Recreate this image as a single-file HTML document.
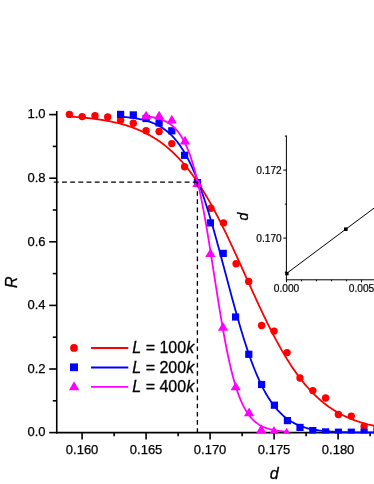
<!DOCTYPE html>
<html><head><meta charset="utf-8"><title>chart</title>
<style>
html,body{margin:0;padding:0;background:#fff;}
body{width:374px;height:484px;overflow:hidden;}
svg{display:block;will-change:transform;}
text{font-family:"Liberation Sans",sans-serif;fill:#000;}
.t{font-size:13px;stroke:#000;stroke-width:0.25px;}
.s{font-size:10.2px;stroke:#000;stroke-width:0.2px;}
.l{font-size:16px;stroke:#000;stroke-width:0.3px;}
.a{stroke:#000;stroke-width:0.3px;}
.i{font-style:italic;}
</style></head><body>
<svg width="374" height="484" viewBox="0 0 374 484">
<defs><clipPath id="clip"><rect x="0" y="0" width="374" height="433.5"/></clipPath></defs>
<rect width="374" height="484" fill="#fff"/>
<path d="M56.75 110.9 V433.40" stroke="#000" stroke-width="1.6" fill="none"/>
<path d="M55.95 432.60 H374" stroke="#000" stroke-width="1.8" fill="none"/>
<path d="M49.2 432.60 H56.75" stroke="#000" stroke-width="1.6"/>
<text x="45.6" y="436.40" text-anchor="end" class="t">0.0</text>
<path d="M52.8 400.80 H56.75" stroke="#000" stroke-width="1.6"/>
<path d="M49.2 369.00 H56.75" stroke="#000" stroke-width="1.6"/>
<text x="45.6" y="372.80" text-anchor="end" class="t">0.2</text>
<path d="M52.8 337.20 H56.75" stroke="#000" stroke-width="1.6"/>
<path d="M49.2 305.40 H56.75" stroke="#000" stroke-width="1.6"/>
<text x="45.6" y="309.20" text-anchor="end" class="t">0.4</text>
<path d="M52.8 273.60 H56.75" stroke="#000" stroke-width="1.6"/>
<path d="M49.2 241.80 H56.75" stroke="#000" stroke-width="1.6"/>
<text x="45.6" y="245.60" text-anchor="end" class="t">0.6</text>
<path d="M52.8 210.00 H56.75" stroke="#000" stroke-width="1.6"/>
<path d="M49.2 178.20 H56.75" stroke="#000" stroke-width="1.6"/>
<text x="45.6" y="182.00" text-anchor="end" class="t">0.8</text>
<path d="M52.8 146.40 H56.75" stroke="#000" stroke-width="1.6"/>
<path d="M49.2 114.60 H56.75" stroke="#000" stroke-width="1.6"/>
<text x="45.6" y="118.40" text-anchor="end" class="t">1.0</text>
<path d="M82.10 432.60 V439.4" stroke="#000" stroke-width="1.6"/>
<text x="82.10" y="453.6" text-anchor="middle" class="t">0.160</text>
<path d="M114.10 432.60 V436.3" stroke="#000" stroke-width="1.6"/>
<path d="M146.10 432.60 V439.4" stroke="#000" stroke-width="1.6"/>
<text x="146.10" y="453.6" text-anchor="middle" class="t">0.165</text>
<path d="M178.10 432.60 V436.3" stroke="#000" stroke-width="1.6"/>
<path d="M210.10 432.60 V439.4" stroke="#000" stroke-width="1.6"/>
<text x="210.10" y="453.6" text-anchor="middle" class="t">0.170</text>
<path d="M242.10 432.60 V436.3" stroke="#000" stroke-width="1.6"/>
<path d="M274.10 432.60 V439.4" stroke="#000" stroke-width="1.6"/>
<text x="274.10" y="453.6" text-anchor="middle" class="t">0.175</text>
<path d="M306.10 432.60 V436.3" stroke="#000" stroke-width="1.6"/>
<path d="M338.10 432.60 V439.4" stroke="#000" stroke-width="1.6"/>
<text x="338.10" y="453.6" text-anchor="middle" class="t">0.180</text>
<path d="M370.10 432.60 V436.3" stroke="#000" stroke-width="1.6"/>
<g clip-path="url(#clip)">
<path d="M69.40 116.55 L70.40 116.62 L71.40 116.68 L72.40 116.75 L73.40 116.82 L74.40 116.89 L75.40 116.96 L76.40 117.03 L77.40 117.11 L78.40 117.19 L79.40 117.27 L80.40 117.36 L81.40 117.45 L82.40 117.54 L83.40 117.63 L84.40 117.72 L85.40 117.82 L86.40 117.92 L87.40 118.02 L88.40 118.13 L89.40 118.24 L90.40 118.35 L91.40 118.47 L92.40 118.59 L93.40 118.71 L94.40 118.84 L95.40 118.97 L96.40 119.10 L97.40 119.24 L98.40 119.38 L99.40 119.53 L100.40 119.68 L101.40 119.83 L102.40 119.99 L103.40 120.16 L104.40 120.32 L105.40 120.50 L106.40 120.67 L107.40 120.86 L108.40 121.04 L109.40 121.24 L110.40 121.43 L111.40 121.64 L112.40 121.85 L113.40 122.06 L114.40 122.28 L115.40 122.51 L116.40 122.74 L117.40 122.98 L118.40 123.23 L119.40 123.48 L120.40 123.74 L121.40 124.01 L122.40 124.28 L123.40 124.56 L124.40 124.85 L125.40 125.15 L126.40 125.45 L127.40 125.77 L128.40 126.09 L129.40 126.42 L130.40 126.76 L131.40 127.10 L132.40 127.46 L133.40 127.83 L134.40 128.20 L135.40 128.59 L136.40 128.98 L137.40 129.39 L138.40 129.80 L139.40 130.23 L140.40 130.66 L141.40 131.11 L142.40 131.57 L143.40 132.04 L144.40 132.53 L145.40 133.02 L146.40 133.53 L147.40 134.05 L148.40 134.58 L149.40 135.13 L150.40 135.69 L151.40 136.26 L152.40 136.85 L153.40 137.45 L154.40 138.06 L155.40 138.69 L156.40 139.34 L157.40 140.00 L158.40 140.67 L159.40 141.36 L160.40 142.07 L161.40 142.80 L162.40 143.54 L163.40 144.29 L164.40 145.07 L165.40 145.86 L166.40 146.67 L167.40 147.50 L168.40 148.34 L169.40 149.21 L170.40 150.09 L171.40 151.00 L172.40 151.92 L173.40 152.86 L174.40 153.82 L175.40 154.80 L176.40 155.80 L177.40 156.83 L178.40 157.87 L179.40 158.93 L180.40 160.02 L181.40 161.13 L182.40 162.26 L183.40 163.41 L184.40 164.58 L185.40 165.78 L186.40 166.99 L187.40 168.23 L188.40 169.50 L189.40 170.78 L190.40 172.09 L191.40 173.42 L192.40 174.78 L193.40 176.16 L194.40 177.56 L195.40 178.98 L196.40 180.43 L197.40 181.91 L198.40 183.40 L199.40 184.92 L200.40 186.46 L201.40 188.03 L202.40 189.62 L203.40 191.23 L204.40 192.87 L205.40 194.53 L206.40 196.21 L207.40 197.91 L208.40 199.64 L209.40 201.39 L210.40 203.16 L211.40 204.95 L212.40 206.77 L213.40 208.61 L214.40 210.46 L215.40 212.34 L216.40 214.24 L217.40 216.15 L218.40 218.09 L219.40 220.05 L220.40 222.02 L221.40 224.01 L222.40 226.02 L223.40 228.05 L224.40 230.09 L225.40 232.15 L226.40 234.22 L227.40 236.31 L228.40 238.41 L229.40 240.53 L230.40 242.65 L231.40 244.79 L232.40 246.94 L233.40 249.10 L234.40 251.27 L235.40 253.45 L236.40 255.64 L237.40 257.84 L238.40 260.04 L239.40 262.25 L240.40 264.46 L241.40 266.67 L242.40 268.89 L243.40 271.12 L244.40 273.34 L245.40 275.56 L246.40 277.79 L247.40 280.01 L248.40 282.23 L249.40 284.45 L250.40 286.67 L251.40 288.88 L252.40 291.09 L253.40 293.29 L254.40 295.48 L255.40 297.67 L256.40 299.85 L257.40 302.01 L258.40 304.17 L259.40 306.32 L260.40 308.46 L261.40 310.58 L262.40 312.70 L263.40 314.79 L264.40 316.88 L265.40 318.95 L266.40 321.00 L267.40 323.04 L268.40 325.06 L269.40 327.07 L270.40 329.05 L271.40 331.02 L272.40 332.97 L273.40 334.90 L274.40 336.81 L275.40 338.70 L276.40 340.57 L277.40 342.42 L278.40 344.25 L279.40 346.05 L280.40 347.84 L281.40 349.60 L282.40 351.34 L283.40 353.05 L284.40 354.75 L285.40 356.42 L286.40 358.06 L287.40 359.69 L288.40 361.29 L289.40 362.86 L290.40 364.41 L291.40 365.94 L292.40 367.45 L293.40 368.93 L294.40 370.38 L295.40 371.81 L296.40 373.22 L297.40 374.60 L298.40 375.96 L299.40 377.30 L300.40 378.61 L301.40 379.90 L302.40 381.17 L303.40 382.41 L304.40 383.63 L305.40 384.82 L306.40 385.99 L307.40 387.14 L308.40 388.27 L309.40 389.38 L310.40 390.46 L311.40 391.52 L312.40 392.56 L313.40 393.58 L314.40 394.57 L315.40 395.55 L316.40 396.50 L317.40 397.44 L318.40 398.35 L319.40 399.24 L320.40 400.12 L321.40 400.97 L322.40 401.81 L323.40 402.63 L324.40 403.43 L325.40 404.21 L326.40 404.97 L327.40 405.71 L328.40 406.44 L329.40 407.15 L330.40 407.85 L331.40 408.52 L332.40 409.18 L333.40 409.83 L334.40 410.46 L335.40 411.07 L336.40 411.67 L337.40 412.26 L338.40 412.83 L339.40 413.38 L340.40 413.92 L341.40 414.45 L342.40 414.97 L343.40 415.47 L344.40 415.96 L345.40 416.43 L346.40 416.90 L347.40 417.35 L348.40 417.79 L349.40 418.22 L350.40 418.64 L351.40 419.04 L352.40 419.44 L353.40 419.83 L354.40 420.20 L355.40 420.57 L356.40 420.92 L357.40 421.27 L358.40 421.60 L359.40 421.93 L360.40 422.25 L361.40 422.56 L362.40 422.86 L363.40 423.15 L364.40 423.44 L365.40 423.71 L366.40 423.98 L367.40 424.25 L368.40 424.50 L369.40 424.75 L370.40 424.99 L371.40 425.22 L372.40 425.45 L373.40 425.67 L374.40 425.88 L375.40 426.09 L376.40 426.29 L377.40 426.49" stroke="#ff0000" stroke-width="1.8" fill="none"/>
<circle cx="69.4" cy="114.4" r="3.70" fill="#ff0000"/>
<circle cx="82.2" cy="116.6" r="3.70" fill="#ff0000"/>
<circle cx="95.0" cy="115.8" r="3.70" fill="#ff0000"/>
<circle cx="107.7" cy="117.0" r="3.70" fill="#ff0000"/>
<circle cx="120.6" cy="120.2" r="3.70" fill="#ff0000"/>
<circle cx="133.3" cy="123.3" r="3.70" fill="#ff0000"/>
<circle cx="146.1" cy="130.8" r="3.70" fill="#ff0000"/>
<circle cx="159.1" cy="131.5" r="3.70" fill="#ff0000"/>
<circle cx="171.8" cy="143.6" r="3.70" fill="#ff0000"/>
<circle cx="184.6" cy="166.7" r="3.70" fill="#ff0000"/>
<circle cx="197.5" cy="182.6" r="3.70" fill="#ff0000"/>
<circle cx="210.9" cy="208.2" r="3.70" fill="#ff0000"/>
<circle cx="223.5" cy="222.9" r="3.70" fill="#ff0000"/>
<circle cx="236.1" cy="263.8" r="3.70" fill="#ff0000"/>
<circle cx="248.7" cy="281.4" r="3.70" fill="#ff0000"/>
<circle cx="261.6" cy="325.5" r="3.70" fill="#ff0000"/>
<circle cx="274.1" cy="331.1" r="3.70" fill="#ff0000"/>
<circle cx="287.1" cy="352.6" r="3.70" fill="#ff0000"/>
<circle cx="300.0" cy="378.0" r="3.70" fill="#ff0000"/>
<circle cx="312.8" cy="390.6" r="3.70" fill="#ff0000"/>
<circle cx="325.6" cy="398.0" r="3.70" fill="#ff0000"/>
<circle cx="338.4" cy="414.5" r="3.70" fill="#ff0000"/>
<circle cx="351.3" cy="416.1" r="3.70" fill="#ff0000"/>
<circle cx="364.1" cy="426.5" r="3.70" fill="#ff0000"/>
<circle cx="377.0" cy="428.0" r="3.70" fill="#ff0000"/>
<path d="M120.60 116.74 L121.60 116.81 L122.60 116.88 L123.60 116.96 L124.60 117.04 L125.60 117.12 L126.60 117.22 L127.60 117.31 L128.60 117.42 L129.60 117.53 L130.60 117.64 L131.60 117.77 L132.60 117.90 L133.60 118.04 L134.60 118.18 L135.60 118.34 L136.60 118.50 L137.60 118.68 L138.60 118.86 L139.60 119.05 L140.60 119.26 L141.60 119.48 L142.60 119.70 L143.60 119.95 L144.60 120.20 L145.60 120.47 L146.60 120.75 L147.60 121.05 L148.60 121.37 L149.60 121.70 L150.60 122.06 L151.60 122.43 L152.60 122.82 L153.60 123.23 L154.60 123.66 L155.60 124.11 L156.60 124.59 L157.60 125.10 L158.60 125.63 L159.60 126.18 L160.60 126.77 L161.60 127.38 L162.60 128.03 L163.60 128.71 L164.60 129.42 L165.60 130.16 L166.60 130.94 L167.60 131.76 L168.60 132.61 L169.60 133.51 L170.60 134.45 L171.60 135.43 L172.60 136.45 L173.60 137.52 L174.60 138.64 L175.60 139.81 L176.60 141.03 L177.60 142.29 L178.60 143.62 L179.60 144.99 L180.60 146.42 L181.60 147.91 L182.60 149.46 L183.60 151.07 L184.60 152.73 L185.60 154.46 L186.60 156.26 L187.60 158.11 L188.60 160.04 L189.60 162.02 L190.60 164.08 L191.60 166.20 L192.60 168.39 L193.60 170.65 L194.60 172.98 L195.60 175.37 L196.60 177.84 L197.60 180.37 L198.60 182.98 L199.60 185.65 L200.60 188.39 L201.60 191.19 L202.60 194.06 L203.60 197.00 L204.60 200.00 L205.60 203.06 L206.60 206.18 L207.60 209.36 L208.60 212.60 L209.60 215.89 L210.60 219.24 L211.60 222.64 L212.60 226.08 L213.60 229.57 L214.60 233.10 L215.60 236.67 L216.60 240.27 L217.60 243.91 L218.60 247.58 L219.60 251.27 L220.60 254.98 L221.60 258.71 L222.60 262.46 L223.60 266.22 L224.60 269.99 L225.60 273.75 L226.60 277.52 L227.60 281.29 L228.60 285.04 L229.60 288.79 L230.60 292.51 L231.60 296.22 L232.60 299.91 L233.60 303.57 L234.60 307.20 L235.60 310.80 L236.60 314.36 L237.60 317.88 L238.60 321.36 L239.60 324.80 L240.60 328.18 L241.60 331.52 L242.60 334.81 L243.60 338.04 L244.60 341.21 L245.60 344.32 L246.60 347.38 L247.60 350.37 L248.60 353.30 L249.60 356.17 L250.60 358.97 L251.60 361.71 L252.60 364.38 L253.60 366.98 L254.60 369.51 L255.60 371.98 L256.60 374.38 L257.60 376.71 L258.60 378.97 L259.60 381.17 L260.60 383.29 L261.60 385.36 L262.60 387.35 L263.60 389.29 L264.60 391.15 L265.60 392.96 L266.60 394.70 L267.60 396.38 L268.60 398.00 L269.60 399.56 L270.60 401.07 L271.60 402.51 L272.60 403.91 L273.60 405.24 L274.60 406.53 L275.60 407.77 L276.60 408.95 L277.60 410.09 L278.60 411.18 L279.60 412.22 L280.60 413.23 L281.60 414.18 L282.60 415.10 L283.60 415.98 L284.60 416.82 L285.60 417.62 L286.60 418.39 L287.60 419.13 L288.60 419.83 L289.60 420.50 L290.60 421.13 L291.60 421.74 L292.60 422.32 L293.60 422.88 L294.60 423.41 L295.60 423.91 L296.60 424.38 L297.60 424.84 L298.60 425.27 L299.60 425.68 L300.60 426.07 L301.60 426.44 L302.60 426.79 L303.60 427.12 L304.60 427.44 L305.60 427.74 L306.60 428.02 L307.60 428.28 L308.60 428.54 L309.60 428.78 L310.60 429.00 L311.60 429.21 L312.60 429.41 L313.60 429.60 L314.60 429.78 L315.60 429.95 L316.60 430.11 L317.60 430.26 L318.60 430.40 L319.60 430.54 L320.60 430.67 L321.60 430.78 L322.60 430.90 L323.60 431.00 L324.60 431.10 L325.60 431.20 L326.60 431.28 L327.60 431.37 L328.60 431.44 L329.60 431.52 L330.60 431.59 L331.60 431.65 L332.60 431.71 L333.60 431.77 L334.60 431.83 L335.60 431.88 L336.60 431.93 L337.60 431.97 L338.60 432.01 L339.60 432.05 L340.60 432.09 L341.60 432.12 L342.60 432.16 L343.60 432.19 L344.60 432.21 L345.60 432.24 L346.60 432.27 L347.60 432.29 L348.60 432.31 L349.60 432.33 L350.60 432.35 L351.60 432.36 L352.60 432.38 L353.60 432.39 L354.60 432.40 L355.60 432.41 L356.60 432.42 L357.60 432.43 L358.60 432.43 L359.60 432.44 L360.60 432.44 L361.60 432.44 L362.60 432.44 L363.60 432.44 L364.60 432.44 L365.60 432.44 L366.60 432.43 L367.60 432.42 L368.60 432.42 L369.60 432.40 L370.60 432.39 L371.60 432.38 L372.60 432.36 L373.60 432.34 L374.60 432.32 L375.60 432.29 L376.60 432.26" stroke="#0000ff" stroke-width="1.8" fill="none"/>
<rect x="117.00" y="110.80" width="7.20" height="7.20" fill="#0000ff"/>
<rect x="129.70" y="111.30" width="7.20" height="7.20" fill="#0000ff"/>
<rect x="142.50" y="114.90" width="7.20" height="7.20" fill="#0000ff"/>
<rect x="155.50" y="119.30" width="7.20" height="7.20" fill="#0000ff"/>
<rect x="168.20" y="127.20" width="7.20" height="7.20" fill="#0000ff"/>
<rect x="181.00" y="151.70" width="7.20" height="7.20" fill="#0000ff"/>
<rect x="193.90" y="179.00" width="7.20" height="7.20" fill="#0000ff"/>
<rect x="206.80" y="219.30" width="7.20" height="7.20" fill="#0000ff"/>
<rect x="219.60" y="249.80" width="7.20" height="7.20" fill="#0000ff"/>
<rect x="232.00" y="313.40" width="7.20" height="7.20" fill="#0000ff"/>
<rect x="245.20" y="350.70" width="7.20" height="7.20" fill="#0000ff"/>
<rect x="258.00" y="380.90" width="7.20" height="7.20" fill="#0000ff"/>
<rect x="270.80" y="401.60" width="7.20" height="7.20" fill="#0000ff"/>
<rect x="283.80" y="417.00" width="7.20" height="7.20" fill="#0000ff"/>
<rect x="296.40" y="423.80" width="7.20" height="7.20" fill="#0000ff"/>
<rect x="309.20" y="427.00" width="7.20" height="7.20" fill="#0000ff"/>
<rect x="322.00" y="428.30" width="7.20" height="7.20" fill="#0000ff"/>
<rect x="334.80" y="428.60" width="7.20" height="7.20" fill="#0000ff"/>
<rect x="347.70" y="428.60" width="7.20" height="7.20" fill="#0000ff"/>
<rect x="360.50" y="428.60" width="7.20" height="7.20" fill="#0000ff"/>
<rect x="373.40" y="428.60" width="7.20" height="7.20" fill="#0000ff"/>
<path d="M145.60 116.17 L146.40 116.26 L147.20 116.36 L148.00 116.46 L148.80 116.58 L149.60 116.69 L150.40 116.82 L151.20 116.95 L152.00 117.09 L152.80 117.24 L153.60 117.40 L154.40 117.57 L155.20 117.75 L156.00 117.94 L156.80 118.15 L157.60 118.36 L158.40 118.59 L159.20 118.84 L160.00 119.09 L160.80 119.37 L161.60 119.66 L162.40 119.97 L163.20 120.30 L164.00 120.65 L164.80 121.02 L165.60 121.41 L166.40 121.83 L167.20 122.28 L168.00 122.75 L168.80 123.25 L169.60 123.78 L170.40 124.34 L171.20 124.94 L172.00 125.57 L172.80 126.25 L173.60 126.96 L174.40 127.72 L175.20 128.52 L176.00 129.37 L176.80 130.27 L177.60 131.22 L178.40 132.23 L179.20 133.30 L180.00 134.43 L180.80 135.63 L181.60 136.89 L182.40 138.23 L183.20 139.64 L184.00 141.13 L184.80 142.70 L185.60 144.36 L186.40 146.10 L187.20 147.94 L188.00 149.88 L188.80 151.91 L189.60 154.05 L190.40 156.29 L191.20 158.65 L192.00 161.11 L192.80 163.70 L193.60 166.40 L194.40 169.22 L195.20 172.17 L196.00 175.24 L196.80 178.44 L197.60 181.77 L198.40 185.22 L199.20 188.80 L200.00 192.51 L200.80 196.35 L201.60 200.31 L202.40 204.39 L203.20 208.59 L204.00 212.91 L204.80 217.33 L205.60 221.86 L206.40 226.49 L207.20 231.22 L208.00 236.02 L208.80 240.91 L209.60 245.86 L210.40 250.87 L211.20 255.93 L212.00 261.02 L212.80 266.15 L213.60 271.30 L214.40 276.45 L215.20 281.59 L216.00 286.73 L216.80 291.83 L217.60 296.90 L218.40 301.93 L219.20 306.90 L220.00 311.80 L220.80 316.63 L221.60 321.37 L222.40 326.03 L223.20 330.59 L224.00 335.04 L224.80 339.38 L225.60 343.61 L226.40 347.72 L227.20 351.71 L228.00 355.57 L228.80 359.30 L229.60 362.91 L230.40 366.39 L231.20 369.73 L232.00 372.95 L232.80 376.04 L233.60 379.01 L234.40 381.84 L235.20 384.56 L236.00 387.15 L236.80 389.63 L237.60 391.99 L238.40 394.24 L239.20 396.38 L240.00 398.41 L240.80 400.35 L241.60 402.18 L242.40 403.92 L243.20 405.57 L244.00 407.14 L244.80 408.62 L245.60 410.02 L246.40 411.34 L247.20 412.59 L248.00 413.77 L248.80 414.89 L249.60 415.94 L250.40 416.93 L251.20 417.87 L252.00 418.75 L252.80 419.58 L253.60 420.37 L254.40 421.10 L255.20 421.80 L256.00 422.45 L256.80 423.07 L257.60 423.64 L258.40 424.19 L259.20 424.70 L260.00 425.18 L260.80 425.63 L261.60 426.06 L262.40 426.45 L263.20 426.83 L264.00 427.18 L264.80 427.51 L265.60 427.82 L266.40 428.11 L267.20 428.39 L268.00 428.64 L268.80 428.89 L269.60 429.11 L270.40 429.32 L271.20 429.52 L272.00 429.71 L272.80 429.89 L273.60 430.05 L274.40 430.21 L275.20 430.35 L276.00 430.49 L276.80 430.62 L277.60 430.74 L278.40 430.85 L279.20 430.96 L280.00 431.06 L280.80 431.15 L281.60 431.24 L282.40 431.32 L283.20 431.40 L284.00 431.47 L284.80 431.54 L285.60 431.60 L286.40 431.66 L287.20 431.72" stroke="#ff00ff" stroke-width="1.8" fill="none"/>
<path d="M146.10 110.65 L151.20 119.35 L141.00 119.35 Z" fill="#ff00ff"/>
<path d="M159.10 110.65 L164.20 119.35 L154.00 119.35 Z" fill="#ff00ff"/>
<path d="M171.80 114.85 L176.90 123.55 L166.70 123.55 Z" fill="#ff00ff"/>
<path d="M185.00 135.85 L190.10 144.55 L179.90 144.55 Z" fill="#ff00ff"/>
<path d="M197.50 178.25 L202.60 186.95 L192.40 186.95 Z" fill="#ff00ff"/>
<path d="M210.40 248.25 L215.50 256.95 L205.30 256.95 Z" fill="#ff00ff"/>
<path d="M223.00 321.95 L228.10 330.65 L217.90 330.65 Z" fill="#ff00ff"/>
<path d="M235.70 381.65 L240.80 390.35 L230.60 390.35 Z" fill="#ff00ff"/>
<path d="M249.10 407.45 L254.20 416.15 L244.00 416.15 Z" fill="#ff00ff"/>
<path d="M261.20 424.50 L266.30 433.20 L256.10 433.20 Z" fill="#ff00ff"/>
<path d="M274.00 426.10 L279.10 434.80 L268.90 434.80 Z" fill="#ff00ff"/>
<path d="M286.70 427.65 L291.80 436.35 L281.60 436.35 Z" fill="#ff00ff"/>
</g>
<path d="M53.83 182.1 H198.3" stroke="#000" stroke-width="1.35" stroke-dasharray="4.9 3.275" fill="none"/>
<path d="M197.4 183.0 V432.8" stroke="#000" stroke-width="1.35" stroke-dasharray="4.6 3.575" fill="none"/>
<path d="M197.4 181.4 V184" stroke="#000" stroke-width="1.35" fill="none"/>
<circle cx="74" cy="347.9" r="3.9" fill="#ff0000"/>
<rect x="70" y="363.4" width="8" height="7.8" fill="#0000ff"/>
<path d="M74.1 381.3 L79.3 390.2 L68.9 390.2 Z" fill="#ff00ff"/>
<path d="M91 348.0 H128.3" stroke="#ff0000" stroke-width="1.8"/>
<path d="M91 367.5 H128.3" stroke="#0000ff" stroke-width="1.8"/>
<path d="M91 386.8 H128.3" stroke="#ff00ff" stroke-width="1.8"/>
<text x="132.3" y="353.0" class="l"><tspan class="i">L</tspan> = 100<tspan class="i">k</tspan></text>
<text x="132.3" y="372.9" class="l"><tspan class="i">L</tspan> = 200<tspan class="i">k</tspan></text>
<text x="132.3" y="392.3" class="l"><tspan class="i">L</tspan> = 400<tspan class="i">k</tspan></text>
<text transform="translate(16.6 282.3) rotate(-90)" text-anchor="middle" class="i a" font-size="16">R</text>
<text x="274.3" y="478.8" text-anchor="middle" class="i a" font-size="16">d</text>
<text transform="translate(248.3 216.7) rotate(-90)" text-anchor="middle" class="i a" font-size="14">d</text>
<path d="M286.40 135.5 V280.30" stroke="#000" stroke-width="1" fill="none"/>
<path d="M285.90 279.80 H374" stroke="#000" stroke-width="1" fill="none"/>
<path d="M284.8 272.10 H286.40" stroke="#000" stroke-width="1"/>
<path d="M283.3 238.10 H286.40" stroke="#000" stroke-width="1"/>
<text x="281.8" y="241.60" text-anchor="end" class="s">0.170</text>
<path d="M284.8 204.10 H286.40" stroke="#000" stroke-width="1"/>
<path d="M283.3 170.10 H286.40" stroke="#000" stroke-width="1"/>
<text x="281.8" y="173.60" text-anchor="end" class="s">0.172</text>
<path d="M284.8 136.10 H286.40" stroke="#000" stroke-width="1"/>
<path d="M286.50 279.80 V282.3" stroke="#000" stroke-width="1"/>
<text x="286.50" y="291.7" text-anchor="middle" class="s">0.000</text>
<path d="M301.50 279.80 V281.3" stroke="#000" stroke-width="1"/>
<path d="M316.50 279.80 V281.3" stroke="#000" stroke-width="1"/>
<path d="M331.50 279.80 V281.3" stroke="#000" stroke-width="1"/>
<path d="M346.50 279.80 V281.3" stroke="#000" stroke-width="1"/>
<path d="M361.50 279.80 V282.3" stroke="#000" stroke-width="1"/>
<text x="361.50" y="291.7" text-anchor="middle" class="s">0.005</text>
<path d="M376.50 279.80 V281.3" stroke="#000" stroke-width="1"/>
<path d="M286.5 273.5 L345.8 229.2 L374.5 207.8" stroke="#000" stroke-width="1" fill="none"/>
<rect x="285.2" y="271.9" width="3.4" height="3.4" fill="#000"/>
<rect x="344.0" y="227.4" width="3.6" height="3.6" fill="#000"/>
</svg>
</body></html>
